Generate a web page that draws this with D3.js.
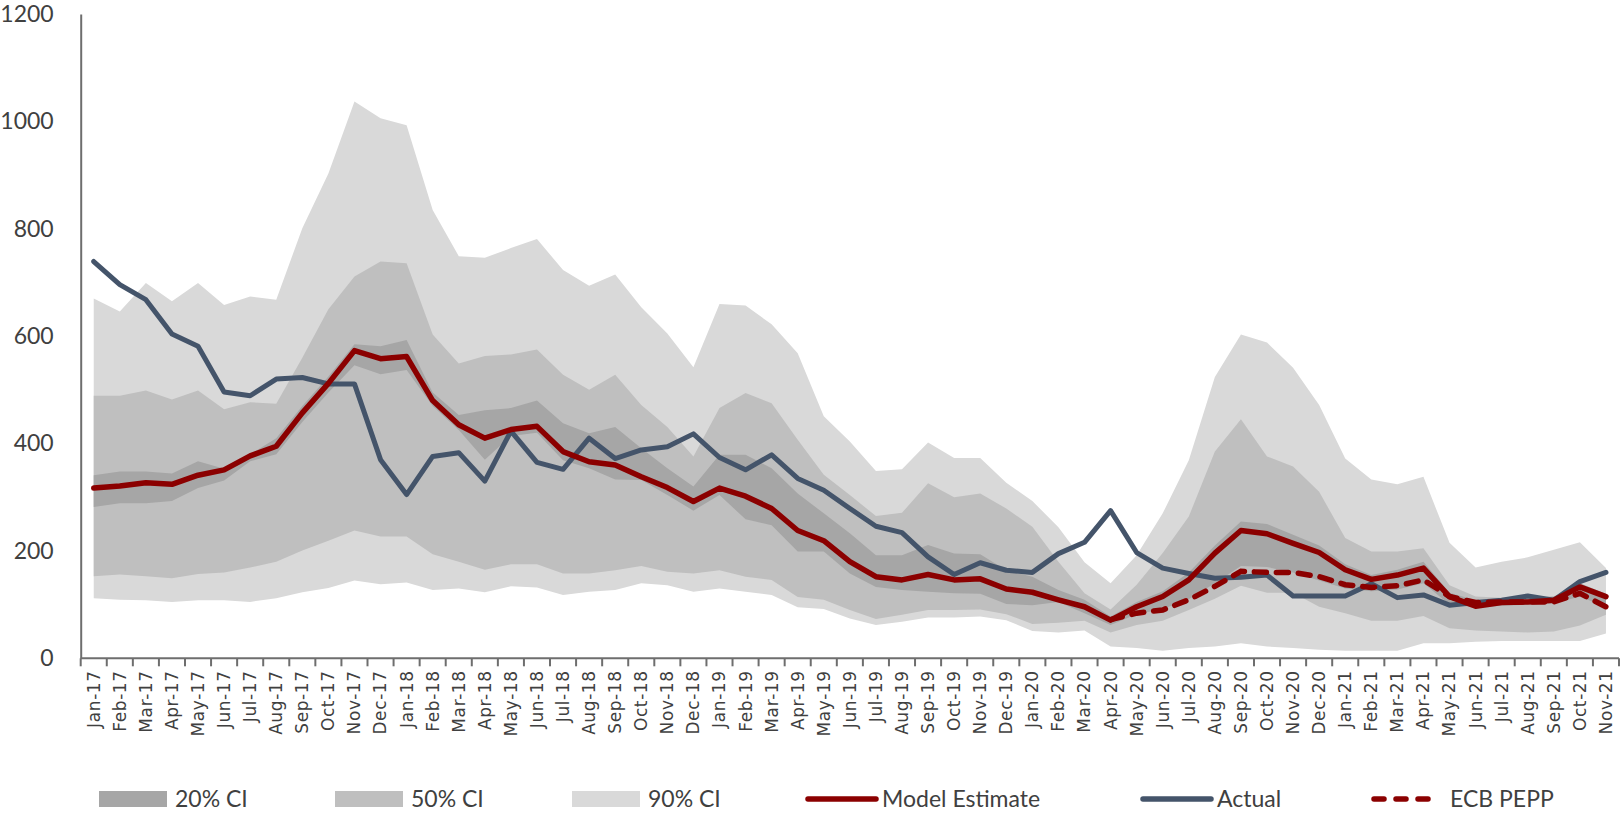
<!DOCTYPE html>
<html>
<head>
<meta charset="utf-8">
<script src="https://cdn.jsdelivr.net/npm/d3@7"></script>
<style>
  html, body { margin: 0; padding: 0; background: #fff; }
  svg { display: block; }
  .ytick text { font-family: Lato, "Open Sans", sans-serif; font-size: 23px; fill: #404040; }
  .xtick text { font-family: "DejaVu Sans", sans-serif; font-size: 17px; letter-spacing: 0.6px; fill: #404040; }
  .legend text { font-family: Lato, "Open Sans", sans-serif; font-size: 23px; fill: #404040; }
</style>
</head>
<body>
<svg id="chart"></svg>
<script>
// Months on the x axis
var months = [
  "Jan-17","Feb-17","Mar-17","Apr-17","May-17","Jun-17","Jul-17","Aug-17","Sep-17","Oct-17","Nov-17","Dec-17",
  "Jan-18","Feb-18","Mar-18","Apr-18","May-18","Jun-18","Jul-18","Aug-18","Sep-18","Oct-18","Nov-18","Dec-18",
  "Jan-19","Feb-19","Mar-19","Apr-19","May-19","Jun-19","Jul-19","Aug-19","Sep-19","Oct-19","Nov-19","Dec-19",
  "Jan-20","Feb-20","Mar-20","Apr-20","May-20","Jun-20","Jul-20","Aug-20","Sep-20","Oct-20","Nov-20","Dec-20",
  "Jan-21","Feb-21","Mar-21","Apr-21","May-21","Jun-21","Jul-21","Aug-21","Sep-21","Oct-21","Nov-21"
];

var yTicks = [0, 200, 400, 600, 800, 1000, 1200];

// Confidence bands
var ci90Low = [112,109,108,105,108,108,105,112,123,131,145,138,141,127,130,123,134,132,
  118,124,127,140,136,124,130,124,118,95,92,74,62,68,76,76,78,71,51,48,52,
  22,19,14,19,22,28,22,19,16,14,14,14,28,28,31,32,32,32,32,46];
var ci90High = [670,646,699,665,699,658,674,668,801,903,1037,1006,993,835,749,746,764,781,
  723,694,715,654,605,542,660,657,622,568,451,404,349,352,402,373,373,327,293,244,179,
  140,192,270,369,524,603,588,541,472,372,333,324,338,215,169,180,188,202,216,168];
var ci50Low = [153,156,153,149,157,160,169,180,201,219,238,227,227,194,180,165,175,175,
  158,158,164,172,161,158,164,152,146,114,109,90,73,81,90,90,91,82,64,66,70,
  48,62,70,90,111,135,122,122,96,84,70,70,79,56,52,50,48,50,61,81];
var ci50High = [489,489,499,482,499,464,477,474,560,650,711,739,736,603,549,563,566,575,
  528,500,528,472,431,376,466,494,475,407,342,304,265,271,326,300,307,279,245,180,121,
  91,137,196,264,385,445,376,357,310,224,199,199,205,136,115,113,113,115,122,115];
var ci20Low = [282,289,289,293,317,331,367,380,440,495,546,529,537,470,425,370,414,420,
  369,354,333,332,304,275,304,259,248,199,199,158,133,127,124,121,120,101,99,105,84,
  62,82,92,110,140,172,170,160,145,130,125,128,140,100,95,98,100,102,115,95];
var ci20High = [341,348,348,344,367,353,380,410,470,525,585,581,593,495,453,462,466,480,
  438,419,431,391,354,320,379,379,354,307,270,233,192,192,211,195,194,164,152,127,109,
  78,105,125,160,210,255,250,230,210,175,155,165,180,122,108,110,112,115,140,120];

// Lines
var modelEstimate = [317,321,327,324,341,351,377,395,457,512,573,558,562,480,435,410,426,432,
  385,366,360,338,318,292,317,302,279,238,219,180,152,146,156,146,148,129,123,109,96,
  71,96,115,146,196,238,232,214,197,165,147,155,168,115,97,104,105,108,133,115];
var actual = [739,696,668,604,581,496,489,520,523,511,511,370,305,376,383,330,423,365,
  352,410,372,388,394,418,374,351,379,335,313,279,246,234,189,156,178,164,160,195,216,
  275,197,168,158,149,151,155,116,116,116,139,113,118,99,104,108,116,108,143,160];
var ecbPepp = [null,null,null,null,null,null,null,null,null,null,null,null,
  null,null,null,null,null,null,null,null,null,null,null,null,
  null,null,null,null,null,null,null,null,null,null,null,null,
  null,null,null,
  72,84,90,109,134,162,160,160,152,137,132,135,146,115,104,105,105,105,121,96];

var width = 1622, height = 814;
var plotLeft = 80.7, plotRight = 1619, plotTop = 14, plotBottom = 658.3;

var svg = d3.select("#chart")
  .attr("width", width)
  .attr("height", height);

var x = d3.scaleBand()
  .domain(months)
  .range([plotLeft, plotRight])
  .padding(0);

var y = d3.scaleLinear()
  .domain([0, 1200])
  .range([plotBottom, plotTop]);

function cx(i) { return x(months[i]) + x.bandwidth() / 2; }

// Bands: 90% first, then 50%, then 20% on top
var bands = [
  { lo: ci90Low, hi: ci90High, color: "#d9d9d9" },
  { lo: ci50Low, hi: ci50High, color: "#bfbfbf" },
  { lo: ci20Low, hi: ci20High, color: "#a6a6a6" }
];

bands.forEach(function(b) {
  var area = d3.area()
    .x(function(d, i) { return cx(i); })
    .y0(function(d, i) { return y(b.lo[i]); })
    .y1(function(d, i) { return y(b.hi[i]); });
  svg.append("path")
    .datum(months)
    .attr("d", area)
    .attr("fill", b.color);
});

// Axes
var yAxis = d3.axisLeft(y)
  .tickValues(yTicks)
  .tickFormat(d3.format("d"))
  .tickSize(0)
  .tickPadding(27);

var gy = svg.append("g")
  .attr("class", "ytick")
  .attr("transform", "translate(" + plotLeft + ",0)")
  .call(yAxis);
gy.select(".domain").attr("stroke", "#6e6e6e").attr("stroke-width", 2);

var xAxis = d3.axisBottom(x)
  .tickSize(0)
  .tickPadding(0);

var gx = svg.append("g")
  .attr("class", "xtick")
  .attr("transform", "translate(0," + plotBottom + ")")
  .call(xAxis);
gx.select(".domain").remove();
gx.selectAll("text")
  .attr("transform", "rotate(-90)")
  .attr("x", -12)
  .attr("y", 0)
  .attr("dy", "0.35em")
  .style("text-anchor", "end");

// Category boundary ticks
var boundaries = months.map(function(m) { return x(m); }).concat([plotRight]);
svg.append("g")
  .selectAll("line")
  .data(boundaries)
  .enter().append("line")
  .attr("x1", function(d) { return d; })
  .attr("x2", function(d) { return d; })
  .attr("y1", plotBottom)
  .attr("y2", plotBottom + 8)
  .attr("stroke", "#6e6e6e")
  .attr("stroke-width", 2);

svg.append("line")
  .attr("x1", plotLeft)
  .attr("x2", plotRight)
  .attr("y1", plotBottom)
  .attr("y2", plotBottom)
  .attr("stroke", "#6e6e6e")
  .attr("stroke-width", 2);

// Lines
function lineFor(values) {
  return d3.line()
    .defined(function(d, i) { return values[i] != null; })
    .x(function(d, i) { return cx(i); })
    .y(function(d, i) { return y(values[i]); });
}

svg.append("path")
  .datum(months)
  .attr("d", lineFor(actual))
  .attr("fill", "none")
  .attr("stroke", "#44546a")
  .attr("stroke-width", 5)
  .attr("stroke-linejoin", "round")
  .attr("stroke-linecap", "round");

svg.append("path")
  .datum(months)
  .attr("d", lineFor(modelEstimate))
  .attr("fill", "none")
  .attr("stroke", "#8b0000")
  .attr("stroke-width", 5.5)
  .attr("stroke-linejoin", "round")
  .attr("stroke-linecap", "round");

svg.append("path")
  .datum(months)
  .attr("d", lineFor(ecbPepp))
  .attr("fill", "none")
  .attr("stroke", "#8b0000")
  .attr("stroke-width", 5.5)
  .attr("stroke-dasharray", "12,10")
  .attr("stroke-linecap", "round");

// Legend
var legendY = 799;
var legendItems = [
  { label: "20% CI", type: "box", color: "#a6a6a6", x: 99 },
  { label: "50% CI", type: "box", color: "#bfbfbf", x: 335 },
  { label: "90% CI", type: "box", color: "#d9d9d9", x: 572 },
  { label: "Model Estimate", type: "line", color: "#8b0000", x: 806 },
  { label: "Actual", type: "line", color: "#44546a", x: 1141 },
  { label: "ECB PEPP", type: "dash", color: "#8b0000", x: 1372 }
];

var lg = svg.append("g").attr("class", "legend")
  .selectAll("g")
  .data(legendItems)
  .enter().append("g")
  .attr("transform", function(d) { return "translate(" + d.x + "," + legendY + ")"; });

lg.filter(function(d) { return d.type === "box"; })
  .append("rect")
  .attr("x", 0)
  .attr("y", -8)
  .attr("width", 68)
  .attr("height", 16)
  .attr("fill", function(d) { return d.color; });

lg.filter(function(d) { return d.type !== "box"; })
  .append("line")
  .attr("x1", 2)
  .attr("x2", function(d) { return d.type === "dash" ? 62 : 70; })
  .attr("y1", 0)
  .attr("y2", 0)
  .attr("stroke", function(d) { return d.color; })
  .attr("stroke-width", 5.5)
  .attr("stroke-linecap", "round")
  .attr("stroke-dasharray", function(d) { return d.type === "dash" ? "10,12" : null; });

lg.append("text")
  .attr("x", function(d) { return d.type === "dash" ? 78 : 76; })
  .attr("y", 0)
  .attr("dy", "0.36em")
  .text(function(d) { return d.label; });
</script>
</body>
</html>
